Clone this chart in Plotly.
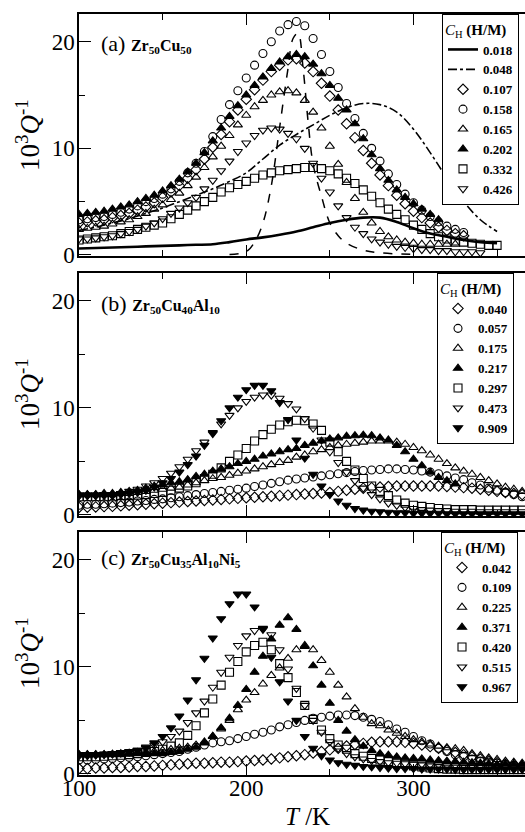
import plotly.graph_objects as go

# ---------------- data ----------------
T = list(range(100, 370, 5))          # 100 ... 365 K, 5 K steps
T10 = list(range(100, 360, 10))       # 100 ... 350 K, 10 K steps (lines)
T_fit = [190, 200, 205, 210, 215, 220, 225, 228, 231, 234, 237, 240, 245, 250, 255, 260, 270, 280, 300]

# (a) Zr50Cu50
a_0018 = [0.6, 0.65, 0.7, 0.75, 0.8, 0.85, 0.9, 0.95, 1.0, 1.2, 1.45, 1.65, 1.9, 2.2, 2.6, 3.0, 3.3, 3.5, 3.5, 3.1,
          2.5, 2.0, 1.7, 1.4, 1.2, 1.1]
a_0048 = [2.3, 2.6, 3.0, 3.4, 3.9, 4.4, 5.0, 5.6, 6.2, 6.9, 7.7, 9.0, 10.3, 11.3, 12.2, 13.1, 13.8, 14.2, 14.1, 13.4,
          11.8, 9.6, 7.2, 5.0, 3.3, 2.2]
a_fit = [0.05, 0.3, 1.2, 3.0, 6.5, 12.0, 17.5, 20.3, 20.8, 17.5, 12.5, 8.5, 5.5, 3.0, 1.8, 1.1, 0.45, 0.2, 0.05]
a_0107 = [3.0, 3.1, 3.2, 3.3, 3.5, 3.7, 3.9, 4.2, 4.5, 4.9, 5.4, 5.9, 6.5, 7.2, 8.0, 9.0, 10.1, 11.3, 12.5, 13.6,
          14.6, 15.5, 16.4, 17.2, 17.8, 18.3, 18.4, 18.0, 17.2, 16.1, 14.9, 13.6, 12.3, 11.0, 9.8, 8.6, 7.5, 6.5, 5.6, 4.8,
          4.1, 3.5, 3.0, 2.6, 2.3, 2.0, 1.8]
a_0158 = [3.3, 3.4, 3.5, 3.6, 3.8, 4.0, 4.3, 4.6, 5.0, 5.3, 5.7, 6.2, 6.9, 7.7, 8.6, 9.7, 11.1, 12.7, 14.1, 15.4,
          16.6, 17.8, 18.9, 20.0, 21.0, 21.6, 21.9, 21.5, 20.3, 18.8, 17.2, 15.7, 14.2, 12.8, 11.4, 10.0, 8.8, 7.6, 6.6, 5.7,
          4.9, 4.2, 3.6, 3.1, 2.7, 2.4, 2.1]
a_0165 = [2.4, 2.5, 2.6, 2.7, 2.9, 3.1, 3.3, 3.6, 3.9, 4.3, 4.7, 5.2, 5.8, 6.5, 7.3, 8.2, 9.2, 10.2, 11.2, 12.2,
          13.1, 13.9, 14.5, 15.0, 15.3, 15.4, 15.2, 14.5, 13.4, 11.9, 10.2, 8.5, 6.8, 5.3, 4.0, 3.0, 2.2, 1.7, 1.4, 1.2,
          1.1, 1.0, 1.0, 1.0, 1.0, 1.0]
a_0202 = [3.8, 3.9, 4.0, 4.1, 4.3, 4.5, 4.7, 5.0, 5.3, 5.6, 6.0, 6.5, 7.1, 7.8, 8.6, 9.6, 10.7, 11.9, 13.0, 14.0,
          15.0, 15.9, 16.7, 17.5, 18.1, 18.6, 18.8, 18.6, 17.9, 17.0, 15.9, 14.7, 13.6, 12.3, 10.9, 9.4, 8.1, 7.0, 6.1, 5.4,
          4.8, 4.3, 3.8, 3.3]
a_0332 = [1.4, 1.5, 1.6, 1.7, 1.8, 2.0, 2.2, 2.4, 2.6, 2.8, 3.0, 3.4, 3.8, 4.2, 4.6, 5.0, 5.4, 5.9, 6.3, 6.6,
          6.9, 7.2, 7.5, 7.7, 7.9, 8.0, 8.1, 8.2, 8.2, 8.1, 7.9, 7.6, 7.2, 6.7, 6.1, 5.5, 4.9, 4.3, 3.8, 3.3,
          2.8, 2.4, 2.0, 1.7, 1.5, 1.3, 1.2, 1.1, 1.0, 0.9, 0.9]
a_0426 = [1.5, 1.5, 1.6, 1.7, 1.8, 2.0, 2.2, 2.4, 2.7, 3.0, 3.4, 3.9, 4.4, 4.9, 5.4, 6.2, 7.0, 7.9, 8.8, 9.7,
          10.5, 11.2, 11.7, 11.9, 11.8, 11.4, 10.9, 10.0, 8.6, 7.2, 5.9, 4.6, 3.5, 2.6, 2.0, 1.5, 1.2, 1.0, 0.8, 0.7,
          0.6, 0.5, 0.5, 0.4, 0.4, 0.3, 0.3, 0.3, 0.2]

# (b) Zr50Cu40Al10
b_0040 = [0.7, 0.72, 0.75, 0.78, 0.8, 0.85, 0.9, 0.95, 1.0, 1.05, 1.1, 1.15, 1.2, 1.25, 1.3, 1.35, 1.4, 1.45, 1.5, 1.55,
          1.6, 1.65, 1.7, 1.75, 1.8, 1.85, 1.9, 1.95, 2.0, 2.05, 2.1, 2.2, 2.3, 2.4, 2.5, 2.55, 2.6, 2.65, 2.7, 2.7,
          2.7, 2.7, 2.7, 2.7, 2.65, 2.6, 2.55, 2.5, 2.4, 2.3, 2.2, 2.1, 2.0, 1.9]
b_0057 = [0.9, 1.0, 1.0, 1.05, 1.1, 1.15, 1.2, 1.3, 1.35, 1.45, 1.5, 1.6, 1.7, 1.8, 1.9, 2.0, 2.1, 2.2, 2.3, 2.4,
          2.5, 2.65, 2.8, 2.95, 3.1, 3.25, 3.35, 3.45, 3.55, 3.65, 3.75, 3.85, 3.95, 4.05, 4.15, 4.2, 4.25, 4.3, 4.3, 4.25,
          4.2, 4.1, 4.0, 3.85, 3.65, 3.45, 3.3, 3.0, 2.8, 2.5, 2.3, 2.1, 1.9, 1.7]
b_0175 = [1.9, 1.9, 1.9, 1.9, 1.9, 2.0, 2.0, 2.1, 2.2, 2.3, 2.4, 2.5, 2.6, 2.8, 3.0, 3.2, 3.4, 3.5, 3.7, 3.9,
          4.1, 4.3, 4.5, 4.7, 4.9, 5.1, 5.4, 5.6, 5.9, 6.1, 6.3, 6.5, 6.6, 6.7, 6.8, 6.9, 6.9, 6.9, 6.8, 6.6,
          6.3, 6.0, 5.6, 5.2, 4.8, 4.4, 4.1, 3.8, 3.5, 3.2, 2.9, 2.6, 2.4, 2.2]
b_0217 = [1.9, 1.9, 1.9, 2.0, 2.0, 2.1, 2.2, 2.3, 2.5, 2.7, 2.8, 3.0, 3.1, 3.3, 3.6, 3.8, 4.1, 4.3, 4.5, 4.8,
          5.0, 5.2, 5.5, 5.7, 5.9, 6.1, 6.2, 6.5, 6.7, 6.9, 7.1, 7.2, 7.35, 7.4, 7.45, 7.4, 7.2, 7.0, 6.5, 5.9,
          5.2, 4.6, 4.0, 3.5, 3.2, 2.9]
b_0297 = [1.7, 1.7, 1.7, 1.7, 1.7, 1.8, 1.8, 1.85, 1.9, 2.0, 2.1, 2.3, 2.5, 2.7, 3.0, 3.4, 3.8, 4.4, 5.0, 5.6,
          6.2, 6.9, 7.5, 8.0, 8.4, 8.7, 8.85, 8.8, 8.5, 7.9, 6.8, 5.9, 5.0, 4.2, 3.4, 2.7, 2.2, 1.8, 1.4, 1.1,
          0.9, 0.8, 0.7, 0.6, 0.55, 0.5, 0.5, 0.5, 0.45, 0.45, 0.45, 0.45, 0.45, 0.45]
b_0473 = [1.8, 1.8, 1.8, 1.9, 1.9, 2.0, 2.2, 2.4, 2.7, 3.0, 3.4, 3.9, 4.5, 5.2, 6.0, 6.8, 7.7, 8.5, 9.3, 10.0,
          10.6, 11.0, 11.2, 11.2, 10.9, 10.4, 9.9, 9.0, 8.1, 7.0, 5.9, 4.9, 4.0, 3.2, 2.5, 1.9, 1.5, 1.1, 0.9, 0.7,
          0.6, 0.5, 0.45, 0.4, 0.4, 0.35, 0.35, 0.35, 0.3, 0.3, 0.3, 0.3, 0.3, 0.3]
b_0909 = [1.8, 1.8, 1.8, 1.8, 1.8, 1.9, 2.0, 2.1, 2.3, 2.6, 3.0, 3.4, 4.0, 4.7, 5.5, 6.5, 7.6, 8.8, 10.0, 11.0,
          11.7, 12.1, 12.1, 11.6, 10.5, 8.9, 7.0, 5.3, 3.8, 2.7, 1.9, 1.3, 0.9, 0.6, 0.45, 0.35, 0.3, 0.25, 0.2, 0.2,
          0.15, 0.15, 0.15, 0.15, 0.1, 0.1, 0.1, 0.1, 0.1, 0.1, 0.1, 0.1, 0.1, 0.1]

# (c) Zr50Cu35Al10Ni5
c_0042 = [0.5, 0.5, 0.55, 0.55, 0.6, 0.6, 0.65, 0.7, 0.7, 0.75, 0.8, 0.85, 0.9, 0.95, 1.0, 1.0, 1.05, 1.1, 1.1, 1.15,
          1.2, 1.25, 1.3, 1.4, 1.5, 1.6, 1.7, 1.8, 1.95, 2.1, 2.25, 2.4, 2.6, 2.75, 2.85, 2.95, 3.0, 3.0, 3.0, 2.95,
          2.85, 2.7, 2.55, 2.4, 2.2, 2.0, 1.8, 1.6, 1.4, 1.2, 1.05, 0.9, 0.8, 0.7]
c_0109 = [1.3, 1.3, 1.35, 1.4, 1.45, 1.5, 1.55, 1.6, 1.7, 1.8, 1.9, 2.0, 2.1, 2.3, 2.5, 2.7, 2.9, 3.0, 3.1, 3.3,
          3.5, 3.7, 3.9, 4.1, 4.4, 4.6, 4.8, 5.0, 5.2, 5.3, 5.4, 5.5, 5.5, 5.45, 5.3, 5.1, 4.9, 4.6, 4.2, 3.9,
          3.5, 3.1, 2.8, 2.4, 2.1, 1.8, 1.6, 1.4, 1.2, 1.1, 1.0, 0.9, 0.8, 0.7]
c_0225 = [1.8, 1.8, 1.8, 1.8, 1.85, 1.9, 1.95, 2.0, 2.05, 2.1, 2.2, 2.3, 2.4, 2.5, 2.7, 3.0, 3.5, 4.2, 5.0, 6.0,
          6.9, 7.6, 8.4, 9.2, 9.9, 10.8, 11.6, 12.0, 11.6, 10.6, 9.5, 8.3, 7.2, 6.1, 5.3, 4.7, 4.5, 4.1, 3.8, 3.5,
          3.2, 3.0, 2.8, 2.6, 2.45, 2.35, 2.2, 1.9, 1.7, 1.5, 1.35, 1.2, 1.1, 1.0]
c_0371 = [1.8, 1.8, 1.8, 1.8, 1.8, 1.8, 1.85, 1.9, 1.9, 1.9, 1.9, 2.0, 2.1, 2.3, 2.5, 2.9, 3.5, 4.3, 5.2, 6.4,
          7.9, 9.5, 11.0, 12.6, 13.9, 14.6, 13.5, 11.9, 10.1, 8.3, 6.6, 5.0, 4.0, 3.2, 2.6, 2.2, 1.9, 1.75, 1.6, 1.5,
          1.45, 1.4, 1.3, 1.25, 1.2, 1.15, 1.1, 1.05, 1.0, 0.95, 0.9, 0.9, 0.85, 0.85]
c_0420 = [1.6, 1.6, 1.6, 1.65, 1.7, 1.75, 1.8, 1.9, 2.0, 2.1, 2.3, 2.6, 2.9, 3.6, 4.5, 5.7, 7.0, 8.3, 9.5, 10.5,
          11.4, 12.0, 12.3, 11.6, 10.3, 9.0, 7.6, 6.4, 5.1, 4.1, 3.3, 2.7, 2.3, 1.9, 1.65, 1.45, 1.3, 1.15, 1.0, 0.9,
          0.75, 0.65, 0.55, 0.5, 0.45, 0.45, 0.4, 0.4, 0.4, 0.4, 0.4, 0.4, 0.4, 0.4]
c_0515 = [1.8, 1.8, 1.8, 1.85, 1.9, 2.0, 2.1, 2.2, 2.4, 2.7, 3.0, 3.5, 4.0, 4.8, 5.7, 6.8, 8.1, 9.5, 10.9, 12.0,
          12.9, 13.4, 13.6, 13.0, 11.6, 9.8, 8.0, 6.4, 5.0, 3.9, 3.0, 2.4, 1.9, 1.6, 1.4, 1.25, 1.15, 1.05, 1.0, 0.95,
          0.9, 0.9, 0.85, 0.85, 0.8, 0.8, 0.8, 0.75, 0.75, 0.75, 0.7, 0.7, 0.7, 0.7]
c_0967 = [1.7, 1.7, 1.75, 1.8, 1.85, 1.95, 2.05, 2.2, 2.5, 2.9, 3.5, 4.3, 5.4, 6.9, 8.8, 10.8, 12.7, 14.5, 15.9, 16.8,
          16.8, 15.6, 13.5, 10.9, 8.6, 6.8, 5.0, 3.5, 2.4, 1.7, 1.3, 1.05, 0.9, 0.8, 0.7, 0.65, 0.6, 0.55, 0.5, 0.5,
          0.5, 0.45, 0.45, 0.45, 0.45, 0.4, 0.4, 0.4, 0.4, 0.4, 0.4, 0.4, 0.4, 0.4]

x_ticks = [100, 200, 300]
x_minor = [150, 250, 350]
y_ticks = [0, 10, 20]
y_minor = [5, 15]

# ---------------- figure ----------------
FONT = "Liberation Serif"
fig = go.Figure()


def mk(x, y, sym, name, xa, ya, leg, filled=False):
    n = min(len(x), len(y))
    fig.add_trace(go.Scatter(
        x=x[:n], y=y[:n], mode="markers", name="<b>%s</b>" % name,
        xaxis=xa, yaxis=ya, legend=leg,
        marker=dict(symbol=sym if filled else sym + "-open", size=8, color="black",
                    line=dict(width=1.1, color="black"))))


# panel (a)
fig.add_trace(go.Scatter(x=T10, y=a_0018, mode="lines", name="<b>0.018</b>", xaxis="x", yaxis="y",
                         legend="legend", line=dict(color="black", width=2.6, shape="spline")))
fig.add_trace(go.Scatter(x=T10, y=a_0048, mode="lines", name="<b>0.048</b>", xaxis="x", yaxis="y",
                         legend="legend", line=dict(color="black", width=1.6, dash="dashdot", shape="spline")))
fig.add_trace(go.Scatter(x=T_fit, y=a_fit, mode="lines", showlegend=False, xaxis="x", yaxis="y",
                         line=dict(color="black", width=1.5, dash="dash", shape="spline")))
mk(T, a_0107, "diamond", "0.107", "x", "y", "legend")
mk(T, a_0158, "circle", "0.158", "x", "y", "legend")
mk(T, a_0165, "triangle-up", "0.165", "x", "y", "legend")
mk(T, a_0202, "triangle-up", "0.202", "x", "y", "legend", filled=True)
mk(T, a_0332, "square", "0.332", "x", "y", "legend")
mk(T, a_0426, "triangle-down", "0.426", "x", "y", "legend")

# panel (b)
mk(T, b_0040, "diamond", "0.040", "x2", "y2", "legend2")
mk(T, b_0057, "circle", "0.057", "x2", "y2", "legend2")
mk(T, b_0175, "triangle-up", "0.175", "x2", "y2", "legend2")
mk(T, b_0217, "triangle-up", "0.217", "x2", "y2", "legend2", filled=True)
mk(T, b_0297, "square", "0.297", "x2", "y2", "legend2")
mk(T, b_0473, "triangle-down", "0.473", "x2", "y2", "legend2")
mk(T, b_0909, "triangle-down", "0.909", "x2", "y2", "legend2", filled=True)

# panel (c)
mk(T, c_0042, "diamond", "0.042", "x3", "y3", "legend3")
mk(T, c_0109, "circle", "0.109", "x3", "y3", "legend3")
mk(T, c_0225, "triangle-up", "0.225", "x3", "y3", "legend3")
mk(T, c_0371, "triangle-up", "0.371", "x3", "y3", "legend3", filled=True)
mk(T, c_0420, "square", "0.420", "x3", "y3", "legend3")
mk(T, c_0515, "triangle-down", "0.515", "x3", "y3", "legend3")
mk(T, c_0967, "triangle-down", "0.967", "x3", "y3", "legend3", filled=True)

W, H = 525, 832
ML, MR, MT, MB = 79, 0, 14, 57
PW, PH = W - ML - MR, H - MT - MB


def fy(px):
    return (H - MB - px) / PH


def fx(px):
    return (px - ML) / PW


def xax(anchor, labels):
    d = dict(range=[100, 366.7], domain=[0, 1], anchor=anchor, showline=True, linecolor="black",
             linewidth=1.5, mirror="allticks", ticks="inside", ticklen=11, tickwidth=1.2,
             tickcolor="black", tickvals=x_ticks, showticklabels=labels, showgrid=False, zeroline=False,
             tickfont=dict(family=FONT, size=23, color="black"),
             minor=dict(tickvals=x_minor, ticks="inside", ticklen=6, tickwidth=1.2, tickcolor="black"))
    if labels:
        d["ticklabelstandoff"] = -8
    return d


def yax(anchor, d0, d1):
    return dict(range=[-0.1, 22.6], domain=[d0, d1], anchor=anchor, showline=True, linecolor="black",
                linewidth=1.5, mirror=False, ticks="inside", ticklen=12, tickwidth=1.2, tickcolor="black",
                tickvals=y_ticks, showgrid=False, zeroline=False, ticklabelstandoff=-2,
                tickfont=dict(family=FONT, size=23, color="black"),
                minor=dict(tickvals=y_minor, ticks="inside", ticklen=6, tickwidth=1.2, tickcolor="black"))


def legend(px_left, px_top):
    return dict(x=fx(px_left), y=fy(px_top), xanchor="left", yanchor="top", bgcolor="white",
                bordercolor="black", borderwidth=1, tracegroupgap=0,
                font=dict(family=FONT, size=13, color="black"),
                title=dict(text="<i>C</i><sub>H</sub> <b>(H/M)</b>",
                           font=dict(family=FONT, size=15, color="black")))


fig.update_layout(
    width=W, height=H, margin=dict(l=ML, r=MR, t=MT, b=MB),
    paper_bgcolor="white", plot_bgcolor="white",
    font=dict(family=FONT, color="black"),
    xaxis=xax("y", False), xaxis2=xax("y2", False), xaxis3=xax("y3", True),
    yaxis=yax("x", fy(256), 1.0), yaxis2=yax("x2", fy(516), fy(273)), yaxis3=yax("x3", 0.0, fy(532)),
    legend=legend(442, 14), legend2=legend(437, 273), legend3=legend(441, 532),
)

panel_labels = [
    ("(a) <b><span style='font-size:16px'>Zr<sub>50</sub>Cu<sub>50</sub></span></b>", 43),
    ("(b) <b><span style='font-size:16px'>Zr<sub>50</sub>Cu<sub>40</sub>Al<sub>10</sub></span></b>", 303),
    ("(c) <b><span style='font-size:16px'>Zr<sub>50</sub>Cu<sub>35</sub>Al<sub>10</sub>Ni<sub>5</sub></span></b>", 558),
]
for txt, py in panel_labels:
    fig.add_annotation(text=txt, xref="paper", yref="paper", x=fx(99), y=fy(py), xanchor="left",
                       yanchor="middle", showarrow=False, font=dict(family=FONT, size=22, color="black"))

for py in (135, 394, 653):
    fig.add_annotation(text="10<sup>3</sup><i>Q</i><sup>-1</sup>", xref="paper", yref="paper",
                       x=fx(28), y=fy(py), xanchor="center", yanchor="middle", textangle=-90,
                       showarrow=False, font=dict(family=FONT, size=27, color="black"))

fig.add_annotation(text="<i>T</i> /K", xref="paper", yref="paper", x=fx(307), y=fy(817),
                   xanchor="center", yanchor="middle", showarrow=False,
                   font=dict(family=FONT, size=25, color="black"))

fig.write_html("out.html")
